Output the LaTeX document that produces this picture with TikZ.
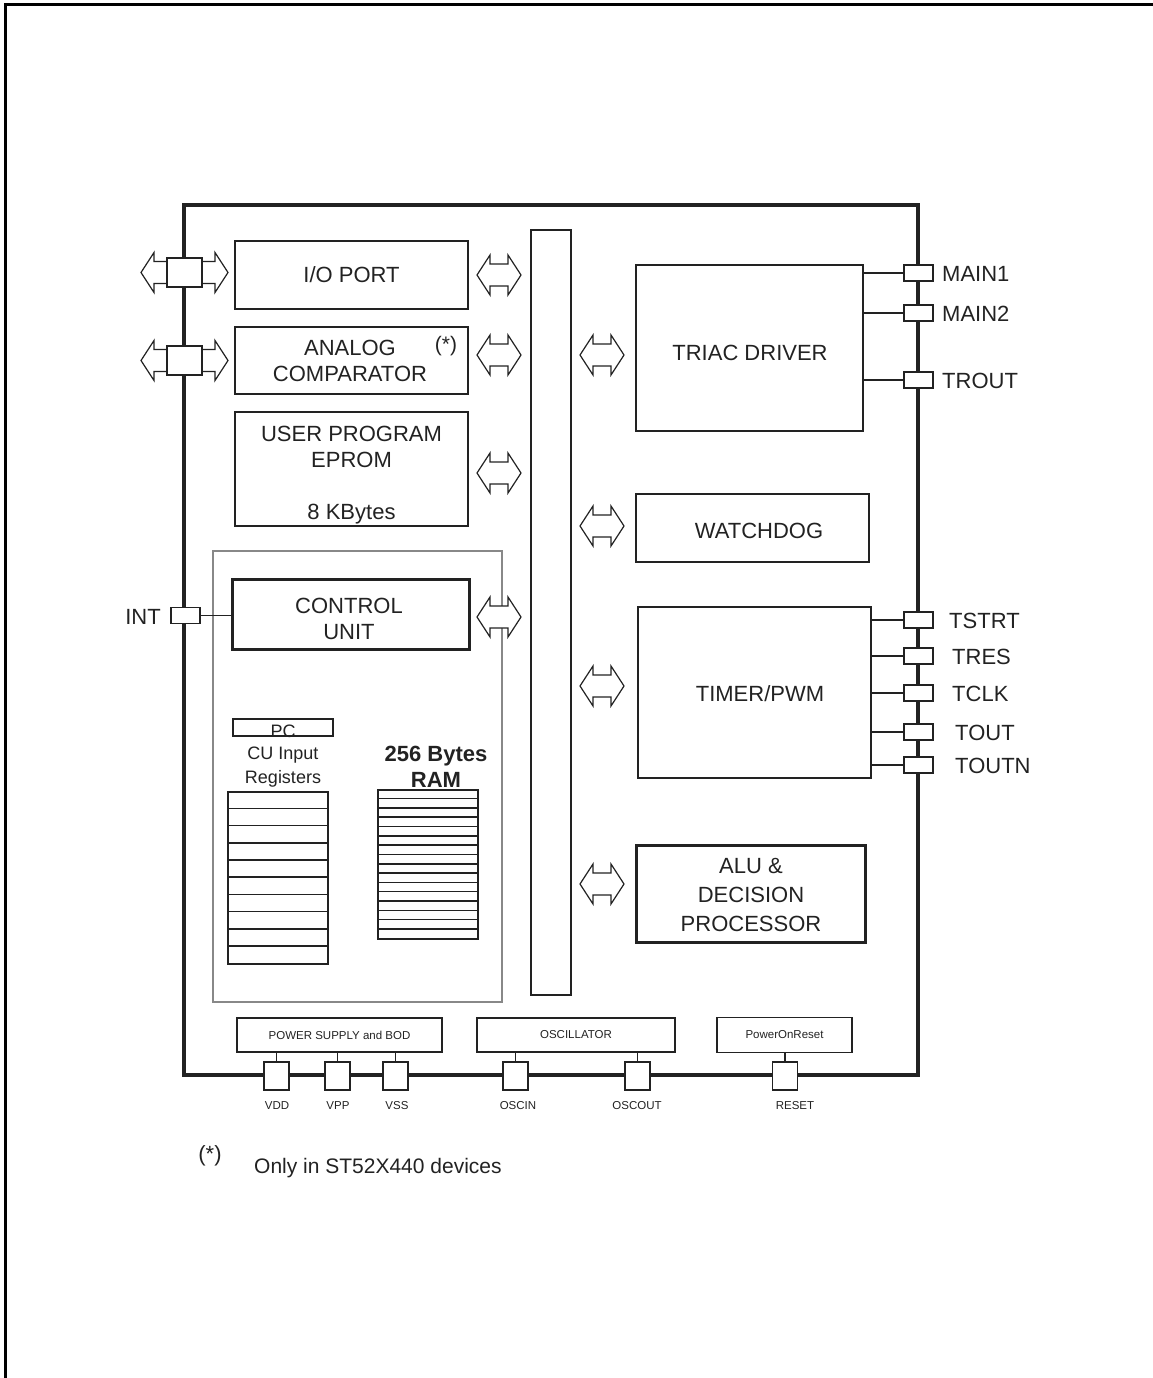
\documentclass[tikz,border=0pt]{standalone}
\usepackage{fontspec}
\setmainfont{Liberation Sans}
\newcommand{\fbig}{\fontsize{22}{26}\selectfont}
\newcommand{\fmidl}{\fontsize{18}{24}\selectfont}
\newcommand{\ftiny}{\fontsize{11.5}{13}\selectfont}
\newcommand{\fnote}{\fontsize{21}{24}\selectfont}
\definecolor{ink}{HTML}{222222}
\definecolor{frame}{HTML}{888888}
\tikzset{
  blk/.style={draw=ink, line width=1.5pt, text=ink, align=center, font=\fbig, inner sep=0pt},
  thickblk/.style={blk, line width=3pt},
  pinr/.style={draw=ink, fill=white, line width=1.3pt, minimum width=29pt, minimum height=16pt, inner sep=0pt},
  pinb/.style={draw=ink, fill=white, line width=1.3pt, minimum width=25pt, minimum height=28pt, inner sep=0pt},
  pinl/.style={draw=ink, fill=white, line width=2pt, minimum width=35pt, minimum height=29pt, inner sep=0pt},
  lbl/.style={text=ink, font=\fbig, inner sep=0pt},
  btxt/.style={text=ink, font=\fbig, align=center, inner sep=0pt},
  tlbl/.style={text=ink, font=\ftiny, inner sep=0pt},
  wire/.style={draw=ink, line width=1.8pt},
  arrowst/.style={draw=ink, line width=1.2pt, fill=white, line join=miter},
  pics/dbl/.style={code={
    \draw[arrowst] (-#1,0) -- ({-#1+13},-20) -- ({-#1+13},-11) -- ({#1-13},-11)
      -- ({#1-13},-20) -- (#1,0) -- ({#1-13},20) -- ({#1-13},11) -- ({-#1+13},11)
      -- ({-#1+13},20) -- cycle;}}
}
\begin{document}
\begin{tikzpicture}[x=1pt,y=-1pt]
\useasboundingbox (0,0) rectangle (1153,1378);
% page border
\draw[line width=3pt, line cap=rect] (5,1378) -- (5,5) -- (1153,5);
% chip outline
\node[draw=ink, line width=3.5pt, minimum width=734pt, minimum height=870pt, inner sep=0pt] (chip) at (551,640) {};
% bus
\node[draw=ink, line width=1.5pt, minimum width=40pt, minimum height=765pt, inner sep=0pt] (bus) at (551,612.5) {};
% left blocks
\node[blk, minimum width=233pt, minimum height=68pt] (io) at (351.5,275) {};
\node[btxt] (iot) at (351.5,275) {I/O PORT};
\node[blk, minimum width=233pt, minimum height=67pt] (anac) at (351.5,360.5) {};
\node[btxt] (anact) at (350,360.5) {ANALOG\\COMPARATOR};
\node[lbl, font=\fontsize{21}{22}\selectfont] (star) at (446,346) {(*)};
\node[blk, minimum width=233pt, minimum height=114pt] (eprom) at (351.5,469) {};
\node[btxt] (epromt) at (351.5,475) {USER PROGRAM\\EPROM\\ \\8 KBytes};
% core container
\node[draw=frame, line width=1.2pt, minimum width=289pt, minimum height=451pt, inner sep=0pt] (core) at (357.5,776.5) {};
\node[thickblk, minimum width=237pt, minimum height=70pt] (cu) at (350.5,614) {};
\node[btxt] (cut) at (349,619) {CONTROL\\UNIT};
% PC and registers
\node[draw=ink, line width=1.2pt, minimum width=100pt, minimum height=17pt, inner sep=0pt] (pc) at (283,727.5) {};
\node[text=ink, font=\fmidl, inner sep=0pt] (pctxt) at (283,731) {PC};
\node[text=ink, font=\fmidl, align=center, inner sep=0pt] (culbl) at (283,767) {CU Input\\Registers};
\node[draw=ink, line width=1.5pt, minimum width=100pt, minimum height=172pt, inner sep=0pt] (regs) at (278,878) {};
\foreach \i in {1,...,9} \draw[ink, line width=1.6pt] ([yshift=-\i*17.2pt]regs.north west) -- ([yshift=-\i*17.2pt]regs.north east);
\node[text=ink, font=\bfseries\fbig, align=center, inner sep=0pt] (ramlbl) at (436,767) {256 Bytes\\RAM};
\node[draw=ink, line width=1.5pt, minimum width=100pt, minimum height=149pt, inner sep=0pt] (ram) at (428,864.5) {};
\foreach \i in {1,...,15} \draw[ink, line width=1.5pt] ([yshift=-\i*9.3125pt]ram.north west) -- ([yshift=-\i*9.3125pt]ram.north east);
% right blocks
\node[blk, minimum width=227pt, minimum height=166pt] (triac) at (749.5,348) {};
\node[btxt] (triact) at (750,353) {TRIAC DRIVER};
\node[blk, minimum width=233pt, minimum height=68pt] (wdog) at (752.5,528) {};
\node[btxt] (wdogt) at (759,531) {WATCHDOG};
\node[blk, minimum width=233pt, minimum height=171pt] (timer) at (754.5,692.5) {};
\node[btxt] (timert) at (760,694) {TIMER/PWM};
\node[thickblk, minimum width=229pt, minimum height=97pt] (alu) at (750.5,893.5) {};
\node[btxt, font=\fontsize{22}{29}\selectfont] (alut) at (751,894.5) {ALU \&\\DECISION\\PROCESSOR};
% bottom blocks
\node[blk, font=\ftiny, minimum width=205pt, minimum height=34pt, line width=1.2pt] (psu) at (339.5,1035) {POWER SUPPLY and BOD};
\node[blk, font=\ftiny, minimum width=198pt, minimum height=34pt, line width=1.2pt] (osc) at (576,1035) {OSCILLATOR};
\node[blk, font=\ftiny, minimum width=135pt, minimum height=35pt, line width=1.2pt] (por) at (784.5,1035) {PowerOnReset};
% bus arrows
\pic at (499,275) {dbl=22};
\pic at (499,355) {dbl=22};
\pic at (499,473) {dbl=22};
\pic at (499,617) {dbl=22};
\pic at (602,355) {dbl=22};
\pic at (602,526) {dbl=22};
\pic at (602,686) {dbl=22};
\pic at (602,884) {dbl=22};
% left I/O pins with arrows
\pic at (184.5,272.5) {dbl=43.5};
\pic at (184.5,360.5) {dbl=43.5};
\node[pinl] (p1) at (184.5,272.5) {};
\node[pinl] (p2) at (184.5,360.5) {};
% INT pin
\node[pinr] (int) at (185.5,615.5) {};
\draw[wire] (int.east) -- (int.east -| cu.west);
\node[lbl, anchor=east] (intl) at (161,617) {INT};
% right pins
\foreach \n/\y/\t/\lx in {m1/273/MAIN1/942, m2/313/MAIN2/942, tr/380/TROUT/942}{
  \node[pinr] (\n) at (918.5,\y) {};
  \draw[wire] (\n.west -| triac.east) -- (\n.west);
  \node[lbl, anchor=west] (\n l) at (\lx,{\y+0.5}) {\t};
}
\foreach \n/\y/\t/\lx in {ts/620/TSTRT/949, tre/656/TRES/952, tc/693/TCLK/952, to/732/TOUT/955, ton/765/TOUTN/955}{
  \node[pinr] (\n) at (918.5,\y) {};
  \draw[wire] (\n.west -| timer.east) -- (\n.west);
  \node[lbl, anchor=west] (\n l) at (\lx,{\y+0.5}) {\t};
}
% bottom pins
\foreach \n/\x/\t/\lx/\bx in {vdd/276.5/VDD/277/psu, vpp/337.5/VPP/338/psu, vss/395.5/VSS/397/psu, oin/515.5/OSCIN/518/osc, oout/637.5/OSCOUT/637/osc, rst/785/RESET/795/por}{
  \node[pinb] (\n) at (\x,1076) {};
  \draw[wire] (\n.north) -- (\n.north |- \bx.south);
  \node[tlbl] (\n l) at (\lx,1106) {\t};
}
% footnote
\node[text=ink, font=\fontsize{22}{22}\selectfont, inner sep=0pt] (fstar) at (210,1156) {(*)};
\node[text=ink, font=\fnote, anchor=west, inner sep=0pt] (fnote) at (254,1168) {Only in ST52X440 devices};
\end{tikzpicture}
\end{document}
